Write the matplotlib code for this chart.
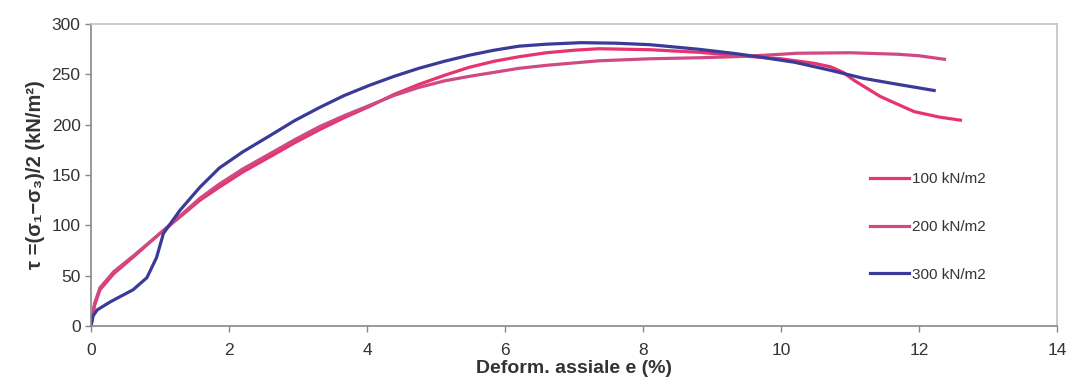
import matplotlib
matplotlib.use("Agg")
import matplotlib.pyplot as plt

plt.rcParams['font.family'] = ['Liberation Sans', 'DejaVu Sans']

# series: axial strain (%) vs tau (kN/m2)
x_100 = [0, 0.05, 0.13, 0.33, 0.62, 1.0, 1.3, 1.58, 1.86, 2.2, 2.59, 2.95, 3.31, 3.67, 4.03,
         4.39, 4.75, 5.12, 5.48, 5.84, 6.2, 6.6, 7.0, 7.36, 8.1, 8.8, 9.5, 10.0, 10.48, 10.72,
         10.9, 11.06, 11.25, 11.44, 11.7, 11.93, 12.3, 12.6]
y_100 = [0, 20, 36, 52, 69, 92, 109, 125, 138, 153, 168, 182, 195, 207, 218,
         230, 240, 249, 257, 263, 267.5, 271.5, 274, 275.5, 274.5, 272, 268, 265.5, 261, 257.5,
         252, 244, 236, 228, 220, 213, 207.5, 204.5]

x_200 = [0, 0.05, 0.13, 0.33, 0.62, 1.0, 1.3, 1.58, 1.86, 2.2, 2.59, 2.95, 3.31, 3.67, 4.03,
         4.39, 4.75, 5.12, 5.48, 5.84, 6.2, 6.6, 7.36, 8.1, 8.8, 9.3, 9.76, 10.24, 11.0, 11.69,
         12.0, 12.37]
y_200 = [0, 22, 38, 54, 70, 92, 110, 127, 141, 156, 171, 185, 198, 209, 219,
         229, 237, 243.5, 248, 252, 256, 259, 263.5, 265.5, 266.5, 267.5, 269, 271, 271.5, 270,
         268.5, 265]

x_300 = [0, 0.03, 0.09, 0.28, 0.61, 0.81, 0.95, 1.05, 1.29, 1.58, 1.86, 2.2, 2.59, 2.95, 3.31,
         3.67, 4.03, 4.39, 4.75, 5.12, 5.48, 5.84, 6.2, 6.6, 7.1, 7.6, 8.1, 8.8, 9.3, 9.67,
         10.2, 10.72, 11.2, 11.7, 12.22]
y_300 = [0, 10, 16, 24, 36, 48, 68, 92, 115, 138, 157, 173, 189, 204, 217,
         229, 239, 248, 256, 263, 269, 274, 278, 280, 281.5, 281, 279.5, 275, 271, 267.5,
         262, 254, 246, 240, 234]

labels = ['100 kN/m2', '200 kN/m2', '300 kN/m2']
colors = ['#E8336E', '#CF4A82', '#3A3A98']

fig = plt.figure(figsize=(10.68, 3.88), dpi=100)
ax = fig.add_axes([0.0852, 0.1598, 0.9045, 0.7782])

ax.plot(x_100, y_100, color=colors[0], lw=2.3, label=labels[0])
ax.plot(x_200, y_200, color=colors[1], lw=2.3, label=labels[1])
ax.plot(x_300, y_300, color=colors[2], lw=2.3, label=labels[2])

ax.set_xlim(0, 14)
ax.set_ylim(0, 300)
ax.set_xticks(range(0, 15, 2))
ax.set_yticks(range(0, 301, 50))
ax.tick_params(axis='both', labelsize=12.5, colors='#888888', labelcolor='#333333',
               length=4, width=1)
ax.tick_params(axis='x', pad=8)

for s in ['left', 'bottom']:
    ax.spines[s].set_color('#888888')
    ax.spines[s].set_linewidth(1.2)
for s in ['top', 'right']:
    ax.spines[s].set_color('#c4c4c4')
    ax.spines[s].set_linewidth(1.2)

ax.set_xlabel('Deform. assiale e (%)', fontsize=14, fontweight='bold', color='#333333', labelpad=2)
ax.set_ylabel('τ =(σ\u2081\u2212σ\u2083)/2 (kN/m²)', fontsize=14.5, fontweight='bold',
              color='#333333', labelpad=5)

leg = ax.legend(loc='center left', bbox_to_anchor=(0.806, 0.328), frameon=False, fontsize=11,
                handlelength=2.6, handletextpad=0.15, labelspacing=2.2, borderaxespad=0,
                borderpad=0)
for t in leg.get_texts():
    t.set_color('#333333')

fig.savefig('out.png', dpi=100)
